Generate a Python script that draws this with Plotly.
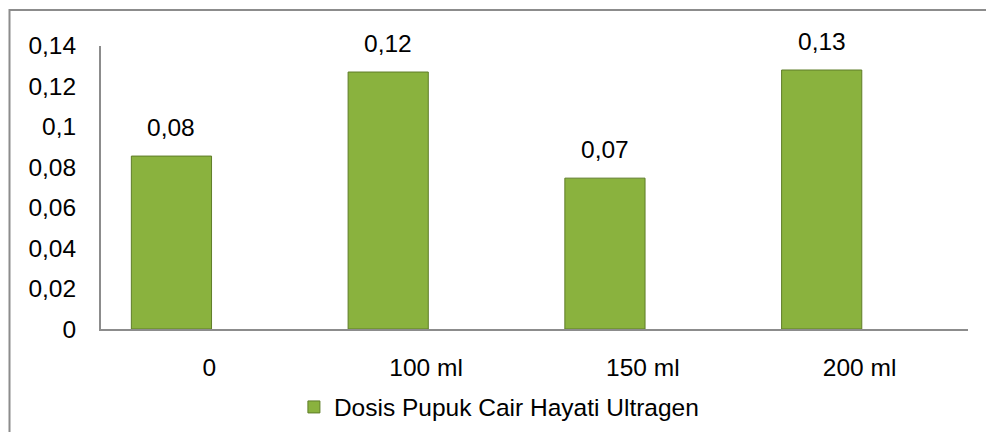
import plotly.graph_objects as go

categories = ["0", "100 ml", "150 ml", "200 ml"]
values = [0.0854, 0.1269, 0.0745, 0.1279]
value_labels = ["0,08", "0,12", "0,07", "0,13"]
series_name = "Dosis Pupuk Cair Hayati Ultragen"
y_tickvals = [0, 0.02, 0.04, 0.06, 0.08, 0.1, 0.12, 0.14]
y_ticktext = ["0", "0,02", "0,04", "0,06", "0,08", "0,1", "0,12", "0,14"]

W, H = 986, 432
FONT = "Liberation Sans, Arial, sans-serif"
FS = 24.5

BAR_W = 0.37
BAR_OFF = -0.36

fig = go.Figure()
fig.add_trace(go.Bar(
    x=categories, y=values, name=series_name,
    width=BAR_W, offset=BAR_OFF,
    marker=dict(color="#8ab23e", line=dict(color="#5f7d28", width=1)),
    showlegend=True,
))

for i, (v, t) in enumerate(zip(values, value_labels)):
    fig.add_annotation(
        x=i + BAR_OFF + BAR_W / 2, y=v, xref="x", yref="y",
        text=t, showarrow=False, yanchor="bottom", yshift=13,
        font=dict(family=FONT, size=FS, color="#000000"),
    )

# outer chart-area border
fig.add_shape(type="rect", xref="paper", yref="paper",
              x0=9.5 / W, x1=1.02, y0=-0.05, y1=(H - 10) / H,
              line=dict(color="#8c8c8c", width=2), fillcolor="rgba(0,0,0,0)", layer="below")

fig.update_layout(
    width=W, height=H,
    margin=dict(l=0, r=0, t=0, b=0),
    paper_bgcolor="white", plot_bgcolor="white",
    font=dict(family=FONT, size=FS, color="#000000"),
    showlegend=True,
    legend=dict(orientation="h", x=0.506, xanchor="center", y=(H - 407) / H, yanchor="middle",
                font=dict(family=FONT, size=FS, color="#000000"), bgcolor="rgba(0,0,0,0)",
                itemwidth=30),
    xaxis=dict(domain=[101 / W, 968 / W], showline=True, linecolor="#8c8c8c", linewidth=2,
               showgrid=False, ticks="", ticklabelstandoff=16, automargin=False,
               tickfont=dict(family=FONT, size=FS)),
    yaxis=dict(domain=[(H - 329) / H, (H - 45.5) / H], range=[0, 0.14],
               tickvals=y_tickvals, ticktext=y_ticktext,
               showline=True, linecolor="#8c8c8c", linewidth=2, showgrid=False,
               zeroline=False, ticks="", ticklabelstandoff=18, automargin=False,
               tickfont=dict(family=FONT, size=FS)),
)

fig.write_html("out.html", config={"displayModeBar": False},
               post_script="document.body.style.margin='0';document.body.style.overflow='hidden';")
